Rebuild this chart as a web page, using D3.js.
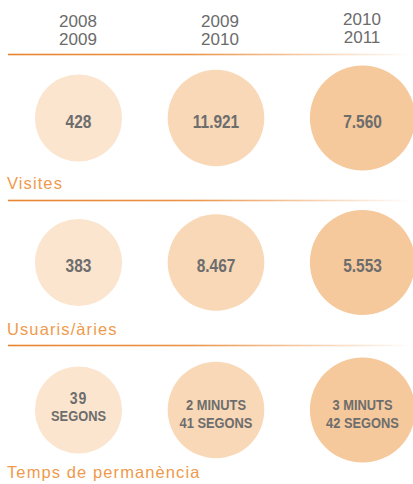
<!DOCTYPE html>
<html><head><meta charset="utf-8">
<script src="https://cdn.jsdelivr.net/npm/d3@7"></script>
<style>html,body{margin:0;padding:0;background:#fff;}svg{display:block;}</style>
</head><body>
<script>
const periods = [["2008","2009"],["2009","2010"],["2010","2011"]];
const metrics = ["Visites","Usuaris/àries","Temps de permanència"];
const visites = ["428","11.921","7.560"];
const usuaris = ["383","8.467","5.553"];
const temps = [["39","SEGONS"],["2 MINUTS","41 SEGONS"],["3 MINUTS","42 SEGONS"]];
const rowValues = [visites.map(v=>[v]), usuaris.map(v=>[v]), temps];

const W=413,H=484;
const svg=d3.select("body").append("svg").attr("width",W).attr("height",H);
const defs=svg.append("defs");
const grad=defs.append("linearGradient").attr("id","lg").attr("x1","0").attr("x2","1").attr("y1","0").attr("y2","0");
grad.append("stop").attr("offset","0").attr("stop-color","#e8852f");
grad.append("stop").attr("offset","0.45").attr("stop-color","#eb9448");
grad.append("stop").attr("offset","1").attr("stop-color","#eb9448").attr("stop-opacity",0);

const idx=d3.range(periods.length);
const x=d3.scaleOrdinal().domain(idx).range([78.5,216,362.5]);
const hx=d3.scaleOrdinal().domain(idx).range([78,220,362]);
const hy=d3.scaleOrdinal().domain(idx).range([27,27,25]);
const rowY=d3.scaleOrdinal().domain(d3.range(metrics.length)).range([118,262.5,410]);
const labelY=d3.scaleOrdinal().domain(d3.range(metrics.length)).range([189,335,478]);
const r=d3.scaleOrdinal().domain(idx).range([43.6,48.3,52.6]);
const fill=d3.scaleOrdinal().domain(idx).range(["#fbe5cf","#f8d8b6","#f5c99c"]);

// header
const hdr=svg.append("g").attr("font-family","Liberation Sans, Arial, sans-serif").attr("font-size",17).attr("fill","#6b6b6b").attr("text-anchor","middle");
periods.forEach((p,i)=>{
  const t=hdr.append("text").attr("x",hx(i)).attr("y",hy(i));
  p.forEach((s,k)=>{
    t.append("tspan").attr("x",hx(i)).attr("dy",k===0?0:18).text(s);
  });
});

[54.5,200.5,345.5].forEach(y=>{
  svg.append("rect").attr("x",8).attr("y",y-0.8).attr("width",W-8).attr("height",1.6).attr("fill","url(#lg)");
});

metrics.forEach((m,ri)=>{
  const cy=rowY(ri);
  const g=svg.append("g");
  g.selectAll("circle").data(rowValues[ri]).join("circle")
    .attr("cx",(d,i)=>x(i)).attr("cy",cy).attr("r",(d,i)=>r(i)).attr("fill",(d,i)=>fill(i));
  rowValues[ri].forEach((lines,i)=>{
    const multi=lines.length>1;
    const sx=multi?0.83:0.86;
    const dy0 = !multi ? 9.5 : (i===0 ? -6.2 : 0.3);
    const t=g.append("text")
      .attr("transform",`translate(${x(i)},${cy+dy0}) scale(${sx},1)`)
      .attr("text-anchor","middle")
      .attr("font-family","Liberation Sans, Arial, sans-serif").attr("font-weight","bold")
      .attr("font-size",multi?15.5:18).attr("fill","#6d6d6d");
    lines.forEach((s,k)=>{
      const numeric=/^[0-9.]+$/.test(s);
      const ts=t.append("tspan").attr("x",0).attr("dy",k===0?0:17.6).text(s);
      if(multi&&numeric) ts.attr("font-size",17).attr("letter-spacing",1.2);
    });
  });
  svg.append("text").attr("x",7).attr("y",labelY(ri)).attr("font-family","Liberation Sans, Arial, sans-serif")
    .attr("font-size",16.5).attr("letter-spacing",1.1).attr("fill","#ef9a4c").text(m);
});
</script>
</body></html>
